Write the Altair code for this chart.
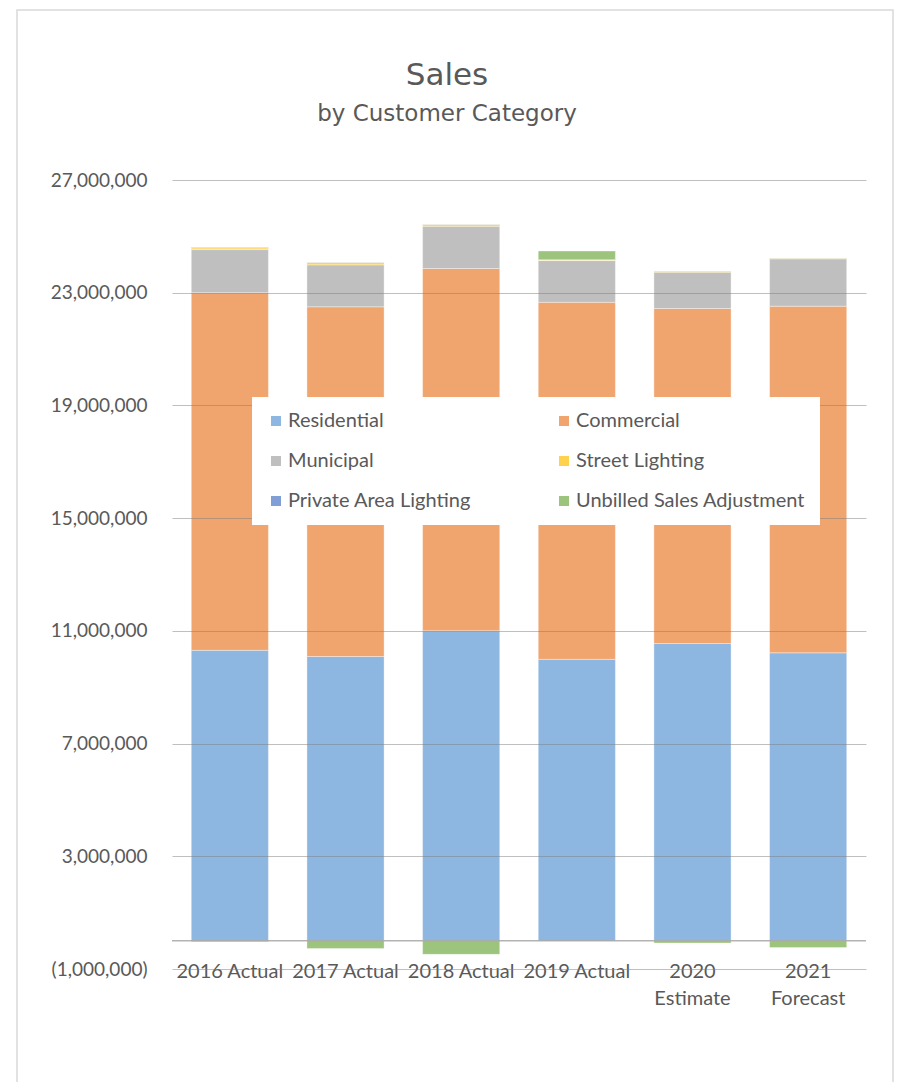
import altair as alt
import pandas as pd

years = ["2016 Actual", "2017 Actual", "2018 Actual", "2019 Actual", "2020 Estimate", "2021 Forecast"]
categories = ["Residential", "Commercial", "Municipal", "Street Lighting",
              "Private Area Lighting", "Unbilled Sales Adjustment"]
colors = ["#8DB6E1", "#F0A46E", "#BFBFBF", "#FFD24D", "#7F9FD6", "#9CC47C"]

residential = [10310000, 10090000, 11000000, 9990000, 10550000, 10220000]
commercial = [12690000, 12410000, 12860000, 12670000, 11890000, 12300000]
municipal = [1530000, 1490000, 1500000, 1480000, 1290000, 1680000]
street_lighting = [60000, 80000, 60000, 20000, 30000, 20000]
private_area = [12000, 11000, 11000, 10000, 10000, 10000]
unbilled = [-30000, -270000, -480000, 310000, -80000, -240000]

y_ticks = [-1000000, 3000000, 7000000, 11000000, 15000000, 19000000, 23000000, 27000000]

series = [residential, commercial, municipal, street_lighting, private_area, unbilled]
rows = []
for ci, (cat, vals) in enumerate(zip(categories, series)):
    for yr, v in zip(years, vals):
        rows.append({"Year": yr, "Category": cat, "Value": v, "idx": ci})
df = pd.DataFrame(rows)

FONT = "Lato"
TFONT = "DejaVu Sans"
TXT = "#595959"

bars = alt.Chart(df).mark_bar(stroke="#ffffff", strokeWidth=0.6, strokeOpacity=0.6).encode(
    x=alt.X("Year:N", sort=years,
            scale=alt.Scale(paddingInner=0.333, paddingOuter=0.1667),
            axis=alt.Axis(title=None, labelAngle=0, domain=False, ticks=False, tickSize=0,
                          labelFont=FONT, labelFontSize=20, labelColor=TXT,
                          labelBaseline="alphabetic", labelPadding=8, labelLineHeight=27,
                          labelOverlap=False,
                          labelExpr="test(/Estimate|Forecast/, datum.label) ? split(datum.label, ' ') : datum.label")),
    y=alt.Y("Value:Q", stack="zero",
            scale=alt.Scale(domain=[-1000000, 27000000], nice=False, zero=False),
            axis=alt.Axis(title=None, values=y_ticks, domain=False, ticks=False,
                          labelFont=FONT, labelFontSize=19, labelColor=TXT, labelPadding=25,
                          grid=True, gridColor="#808080", gridOpacity=0.5, gridWidth=1,
                          zindex=1,
                          labelExpr="datum.value < 0 ? '(' + format(-datum.value, ',') + ')' : format(datum.value, ',')")),
    color=alt.Color("Category:N", sort=categories,
                    scale=alt.Scale(domain=categories, range=colors),
                    legend=alt.Legend(title=None, orient="none", legendX=80, legendY=217,
                                      direction="horizontal", columns=2,
                                      columnPadding=83, rowPadding=20,
                                      symbolType="square", symbolSize=100, symbolStrokeWidth=0,
                                      labelFont=FONT, labelFontSize=20, labelColor=TXT,
                                      labelLimit=400,
                                      labelOffset=2, padding=14, fillColor="#ffffff",
                                      zindex=2)),
    order=alt.Order("idx:Q", sort="ascending"),
)

zero_rule = alt.Chart(pd.DataFrame({"z": [0]})).mark_rule(color="#a0a0a0", strokeWidth=1.5, opacity=0.8).encode(
    y=alt.Y("z:Q")
)

frame = alt.Chart(pd.DataFrame({"f": [0]})).mark_rect(
    fill="#ffffff", fillOpacity=0, stroke="#d9d9d9", strokeWidth=1.5
).encode(
    x=alt.value(-155), x2=alt.value(721), y=alt.value(-170), y2=alt.value(1000)
)

chart = alt.layer(frame, bars, zero_rule).properties(
    width=694, height=789,
    background="#ffffff",
    autosize=alt.AutoSizeParams(type="none"),
    padding={"left": 164, "top": 172, "right": 29, "bottom": 113},
    title=alt.TitleParams(text="Sales", subtitle="by Customer Category",
                          font=TFONT, fontSize=31, fontWeight="normal", color=TXT,
                          subtitleFont=TFONT, subtitleFontSize=23, subtitleColor=TXT,
                          subtitlePadding=11, anchor="middle", dx=-72, offset=-118),
).configure_view(stroke=None)

chart.save("out.html", embed_options={"renderer": "svg", "actions": False})
